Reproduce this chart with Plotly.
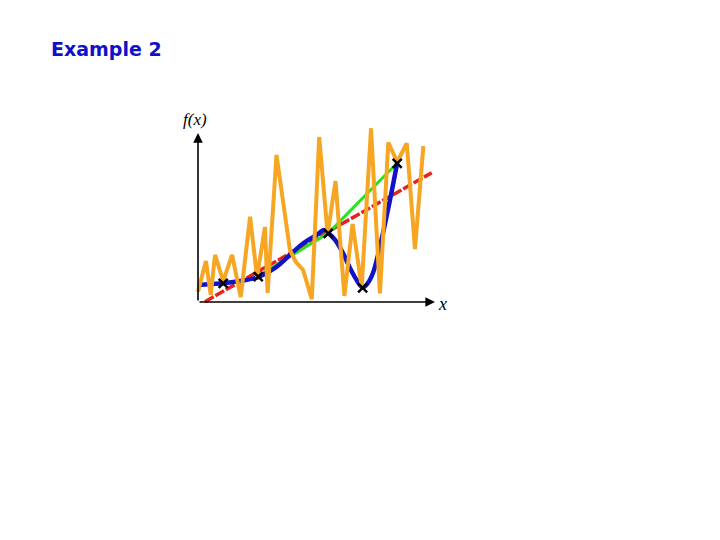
import plotly.graph_objects as go

# ---- data (chart units: x 0..10, f(x) 0..11) ----
orange_x = [0.0, 0.33, 0.53, 0.71, 1.05, 1.42, 1.78, 2.17, 2.46, 2.79, 2.90, 3.27, 3.83, 4.08,
            4.38, 4.74, 5.05, 5.40, 5.73, 6.10, 6.44, 6.82, 7.21, 7.58, 7.93, 8.30, 8.70, 9.04, 9.39]
orange_y = [0.64, 2.56, 0.44, 2.94, 1.31, 2.94, 0.31, 5.33, 1.56, 4.69, 0.56, 9.19, 3.25, 2.50,
            2.00, 0.17, 10.31, 4.25, 7.56, 0.38, 4.88, 0.94, 10.86, 0.54, 9.97, 8.75, 9.92, 3.31, 9.75]

blue_x = [0.01, 0.50, 1.05, 1.75, 2.51, 3.21, 3.96, 4.46, 4.95, 5.25, 5.43, 5.71, 6.04, 6.33,
          6.61, 6.86, 7.08, 7.29, 7.50, 7.71, 8.00, 8.30]
blue_y = [1.06, 1.13, 1.17, 1.31, 1.56, 2.13, 3.13, 3.75, 4.19, 4.50, 4.31, 3.88, 3.06, 2.13,
          1.38, 0.91, 1.19, 1.81, 2.94, 4.31, 6.38, 8.69]

green_x = [2.58, 5.43, 8.30]
green_y = [1.69, 4.31, 8.69]

red_x = [0.29, 9.74]
red_y = [0.02, 8.08]

sample_x = [1.05, 2.51, 5.43, 6.86, 8.30]
sample_y = [1.17, 1.58, 4.29, 0.89, 8.67]

x_axis_end = 9.875
y_axis_end = 10.56

fig = go.Figure()
fig.add_trace(go.Scatter(x=red_x, y=red_y, mode="lines",
                         line=dict(color="#E8231E", width=3.5, dash="10px,2px")))
fig.add_trace(go.Scatter(x=green_x, y=green_y, mode="lines",
                         line=dict(color="#27E31F", width=3)))
fig.add_trace(go.Scatter(x=blue_x, y=blue_y, mode="lines", line_shape="spline",
                         line=dict(color="#1212C8", width=4.5)))
fig.add_trace(go.Scatter(x=orange_x, y=orange_y, mode="lines",
                         line=dict(color="#F6A623", width=4)))
fig.add_trace(go.Scatter(x=sample_x, y=sample_y, mode="markers",
                         marker=dict(symbol="x-thin", size=9, color="black",
                                     line=dict(color="black", width=2.5))))

# axes with arrows
fig.add_annotation(x=x_axis_end, y=0, ax=0, ay=0, xref="x", yref="y", axref="x", ayref="y",
                   showarrow=True, arrowhead=2, arrowsize=1.2, arrowwidth=1.6,
                   arrowcolor="black", text="")
fig.add_annotation(x=0, y=y_axis_end, ax=0, ay=0, xref="x", yref="y", axref="x", ayref="y",
                   showarrow=True, arrowhead=2, arrowsize=1.2, arrowwidth=1.6,
                   arrowcolor="black", text="")
fig.add_annotation(x=-0.12, y=11.4, xref="x", yref="y", showarrow=False, text="<i>f(x)</i>",
                   font=dict(family="Liberation Serif", size=17, color="black"))
fig.add_annotation(x=10.2, y=-0.1, xref="x", yref="y", showarrow=False, text="<i>x</i>",
                   font=dict(family="Liberation Serif", size=18, color="black"))

fig.add_annotation(x=41 / 720, y=1 - 41 / 540, xref="paper", yref="paper",
                   xanchor="left", yanchor="middle", showarrow=False,
                   text="<b>Example 2</b>",
                   font=dict(family="DejaVu Sans", size=19, color="#1010C8"))

fig.update_layout(
    width=720, height=540, margin=dict(l=0, r=0, t=0, b=0),
    paper_bgcolor="white", plot_bgcolor="white", showlegend=False,
    xaxis=dict(range=[-190 / 24, (720 - 190) / 24], visible=False, fixedrange=True),
    yaxis=dict(range=[(294 - 540) / 16, 294 / 16], visible=False, fixedrange=True),
)

fig.write_html("out.html")
